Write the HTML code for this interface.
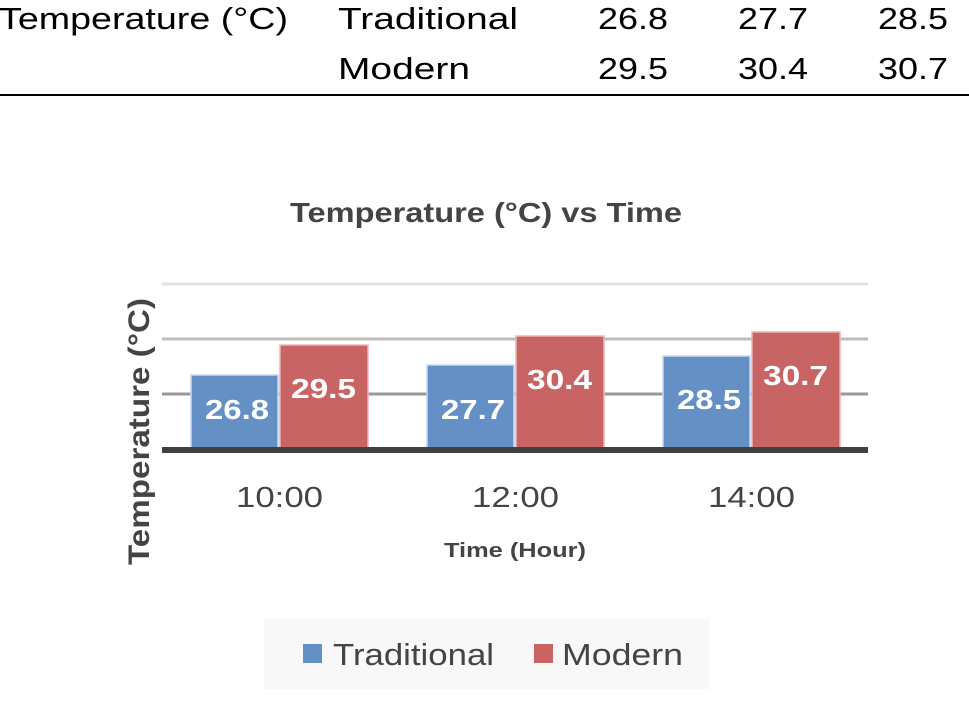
<!DOCTYPE html>
<html><head><style>
body{margin:0;width:969px;height:710px;background:#fff;position:relative;overflow:hidden;font-family:"Liberation Sans",sans-serif;}
</style></head><body>
<svg width="969" height="710" style="position:absolute;left:0;top:0" font-family="Liberation Sans, sans-serif">
<g font-size="31" fill="#000">
<text x="-1" y="29" textLength="289" lengthAdjust="spacingAndGlyphs">Temperature (°C)</text>
<text x="338" y="29" textLength="180" lengthAdjust="spacingAndGlyphs">Traditional</text>
<text x="598" y="29" textLength="70" lengthAdjust="spacingAndGlyphs">26.8</text>
<text x="738" y="29" textLength="70" lengthAdjust="spacingAndGlyphs">27.7</text>
<text x="878" y="29" textLength="70" lengthAdjust="spacingAndGlyphs">28.5</text>
<text x="338" y="79" textLength="132" lengthAdjust="spacingAndGlyphs">Modern</text>
<text x="598" y="79" textLength="70" lengthAdjust="spacingAndGlyphs">29.5</text>
<text x="738" y="79" textLength="70" lengthAdjust="spacingAndGlyphs">30.4</text>
<text x="878" y="79" textLength="70" lengthAdjust="spacingAndGlyphs">30.7</text>
</g>
<rect x="0" y="94" width="969" height="2" fill="#000"/>
<text x="290" y="222" textLength="392" lengthAdjust="spacingAndGlyphs" font-size="28" font-weight="bold" fill="#444">Temperature (°C) vs Time</text>
<line x1="162" x2="868" y1="284" y2="284" stroke="#e2e2e2" stroke-width="3"/>
<line x1="162" x2="868" y1="339" y2="339" stroke="#bdbdbd" stroke-width="3"/>
<line x1="162" x2="868" y1="394" y2="394" stroke="#999" stroke-width="3"/>
<g stroke="#c9d7ea" stroke-width="1.5">
<rect x="191" y="375" width="87" height="75" fill="#6590c6"/>
<rect x="427" y="365" width="87" height="85" fill="#6590c6"/>
<rect x="663" y="356" width="87" height="94" fill="#6590c6"/>
</g>
<g stroke="#eab7b7" stroke-width="1.5">
<rect x="280" y="345" width="88" height="105" fill="#c86463"/>
<rect x="516" y="336" width="88" height="114" fill="#c86463"/>
<rect x="752" y="332" width="88" height="118" fill="#c86463"/>
</g>
<line x1="162" x2="868" y1="450" y2="450" stroke="#404040" stroke-width="6"/>
<g font-size="28" font-weight="bold" fill="#fff">
<text x="205" y="419" textLength="64" lengthAdjust="spacingAndGlyphs">26.8</text>
<text x="291" y="398" textLength="65" lengthAdjust="spacingAndGlyphs">29.5</text>
<text x="441" y="419" textLength="64" lengthAdjust="spacingAndGlyphs">27.7</text>
<text x="527" y="389" textLength="65" lengthAdjust="spacingAndGlyphs">30.4</text>
<text x="677" y="409" textLength="64" lengthAdjust="spacingAndGlyphs">28.5</text>
<text x="763" y="385" textLength="65" lengthAdjust="spacingAndGlyphs">30.7</text>
</g>
<g font-size="29" fill="#444">
<text x="236" y="507" textLength="87" lengthAdjust="spacingAndGlyphs">10:00</text>
<text x="472" y="507" textLength="87" lengthAdjust="spacingAndGlyphs">12:00</text>
<text x="708" y="507" textLength="87" lengthAdjust="spacingAndGlyphs">14:00</text>
</g>
<text x="444" y="557" textLength="142" lengthAdjust="spacingAndGlyphs" font-size="20" font-weight="bold" fill="#444">Time (Hour)</text>
<text transform="translate(149,565) rotate(-90)" textLength="267" lengthAdjust="spacingAndGlyphs" font-size="30" font-weight="bold" fill="#444">Temperature (°C)</text>
<rect x="264" y="619" width="445" height="70" fill="#f8f8f8"/>
<rect x="303" y="644" width="19" height="19" fill="#6590c6"/>
<text x="333" y="665" textLength="161" lengthAdjust="spacingAndGlyphs" font-size="31" fill="#444">Traditional</text>
<rect x="534" y="644" width="19" height="19" fill="#c86463"/>
<text x="562" y="665" textLength="121" lengthAdjust="spacingAndGlyphs" font-size="31" fill="#444">Modern</text>
</svg>
</body></html>
